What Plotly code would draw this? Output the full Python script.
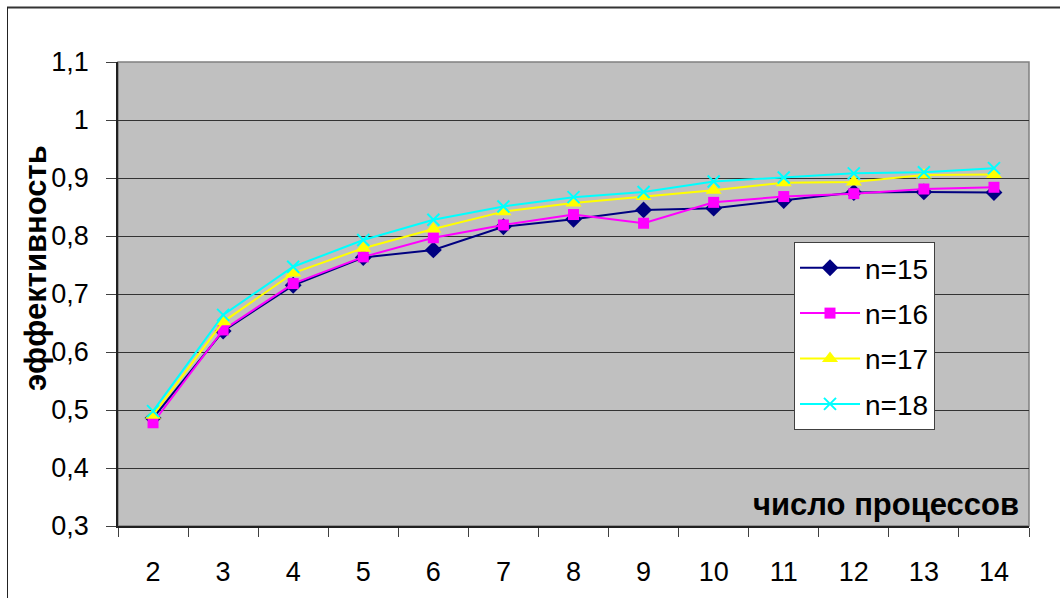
import plotly.graph_objects as go

# number of processes (category axis)
processes = ["2", "3", "4", "5", "6", "7", "8", "9", "10", "11", "12", "13", "14"]

# efficiency for each problem size n
eff_n15 = [0.486, 0.636, 0.715, 0.763, 0.776, 0.816, 0.829, 0.845, 0.848, 0.861, 0.875, 0.876, 0.875]
eff_n16 = [0.478, 0.638, 0.718, 0.764, 0.797, 0.819, 0.837, 0.822, 0.858, 0.868, 0.873, 0.881, 0.884]
eff_n17 = [0.491, 0.652, 0.736, 0.779, 0.812, 0.842, 0.857, 0.868, 0.879, 0.892, 0.893, 0.905, 0.906]
eff_n18 = [0.498, 0.664, 0.747, 0.793, 0.828, 0.851, 0.867, 0.876, 0.894, 0.901, 0.908, 0.910, 0.917]

series_names = ["n=15", "n=16", "n=17", "n=18"]

FONT = "Liberation Sans, Arial, sans-serif"

W, H = 1060, 598
L, R, T, B = 118, 1029, 62, 526  # plot area in pixels


def px_x(x):
    return (x - L) / (R - L)


def px_y(y):
    return (B - y) / (B - T)


styles = [
    dict(color="#000080", symbol="diamond", size=13, mline=0),
    dict(color="#FF00FF", symbol="square", size=11, mline=0),
    dict(color="#FFFF00", symbol="triangle-up", size=14, mline=0),
    dict(color="#00FFFF", symbol="x-thin", size=12, mline=2),
]

fig = go.Figure()
for name, vals, st in zip(series_names, [eff_n15, eff_n16, eff_n17, eff_n18], styles):
    fig.add_trace(go.Scatter(
        x=processes, y=vals, name=name, mode="lines+markers",
        legendgroup=name,
        line=dict(color=st["color"], width=2),
        marker=dict(symbol=st["symbol"], size=st["size"], color=st["color"],
                    line=dict(color=st["color"], width=st["mline"])),
    ))

fig.update_layout(
    width=W, height=H,
    margin=dict(l=L, r=W - R, t=T, b=H - B, pad=0, autoexpand=False),
    paper_bgcolor="white",
    plot_bgcolor="#C0C0C0",
    separators=", ",
    font=dict(family=FONT, size=27, color="black"),
    showlegend=True,
    legend=dict(
        x=px_x(794), y=px_y(242), xanchor="left", yanchor="top",
        bgcolor="white", bordercolor="#404040", borderwidth=1,
        font=dict(family=FONT, size=28, color="black"),
        tracegroupgap=6, itemwidth=60,
    ),
    xaxis=dict(
        type="category", range=[-0.5, 12.5], automargin=False,
        showgrid=False, zeroline=False,
        showline=True, linecolor="#202020", linewidth=1.5,
        ticks="outside", tickson="boundaries", ticklen=9, tickcolor="#404040", tickwidth=1,
        ticklabelstandoff=21,
        tickfont=dict(family=FONT, size=27, color="black"),
    ),
    yaxis=dict(
        range=[0.3, 1.1], dtick=0.1, tick0=0.3, automargin=False,
        showgrid=True, gridcolor="#333333", gridwidth=1,
        zeroline=False,
        showline=True, linecolor="#202020", linewidth=1.5,
        ticks="outside", ticklen=10, tickcolor="#404040", tickwidth=1,
        ticklabelstandoff=12,
        tickfont=dict(family=FONT, size=27, color="black"),
    ),
    shapes=[
        # gray frame of the plot area
        dict(type="rect", xref="paper", yref="paper", x0=0, x1=1, y0=0, y1=1,
             line=dict(color="#808080", width=1.5), layer="below"),
        # outer chart border (top and left)
        dict(type="line", xref="paper", yref="paper",
             x0=px_x(7), x1=px_x(1060), y0=px_y(7.5), y1=px_y(7.5),
             line=dict(color="#333333", width=2)),
        dict(type="line", xref="paper", yref="paper",
             x0=px_x(7.5), x1=px_x(7.5), y0=px_y(7), y1=px_y(598),
             line=dict(color="#222222", width=1)),
    ],
    annotations=[
        dict(text="<b>эффективность</b>", textangle=-90,
             xref="paper", yref="paper", x=px_x(35), y=px_y(268),
             xanchor="center", yanchor="middle", showarrow=False,
             font=dict(family=FONT, size=31, color="black")),
        dict(text="<b>число процессов</b>",
             xref="paper", yref="paper", x=px_x(1021), y=px_y(504),
             xanchor="right", yanchor="middle", showarrow=False,
             font=dict(family=FONT, size=31, color="black")),
    ],
)

fig.write_html("out.html")
